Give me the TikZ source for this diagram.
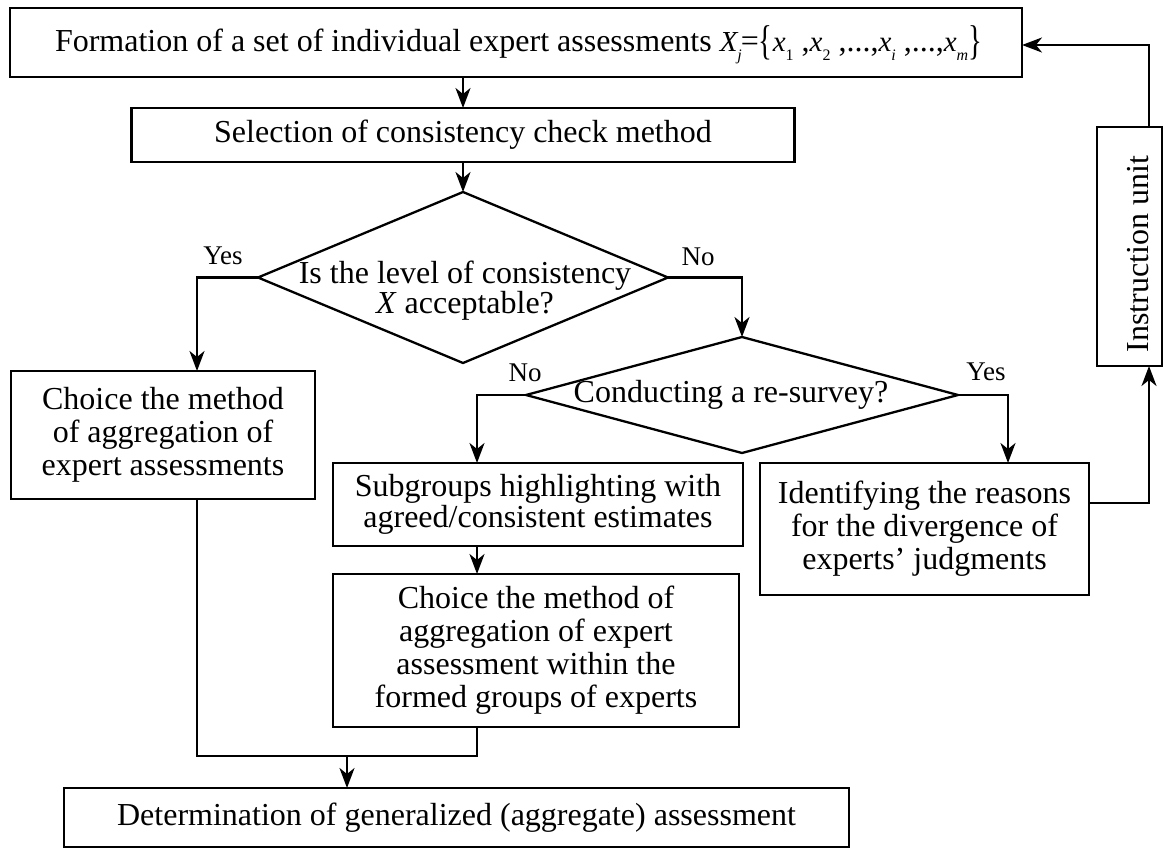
\documentclass[tikz,border=0pt]{standalone}
\usepackage{fontspec}
\setmainfont{Liberation Serif}
\usepackage{graphicx}
\usetikzlibrary{shapes.geometric,arrows.meta}

% lowered indices (italic and upright) and a stretched brace for the formula
\newcommand{\lowsub}[1]{\raisebox{-0.3em}{\fontsize{16}{16}\selectfont\itshape #1}}
\newcommand{\lowsubup}[1]{\raisebox{-0.3em}{\fontsize{16}{16}\selectfont #1}}
\newcommand{\tallbrace}[1]{\raisebox{-3.5pt}{\scalebox{0.9}[1.3]{#1}}}
\newcommand{\vx}{{\fontsize{29}{29}\selectfont\itshape x}}

\begin{document}
\begin{tikzpicture}[x=1pt,y=-1pt,
  every node/.style={inner sep=0pt, outer sep=0pt},
  txt/.style={font=\fontsize{32}{33}\selectfont, align=center},
  box/.style={txt, draw, line width=2.3pt, rectangle},
  decision/.style={draw, line width=2.3pt, shape=diamond},
  lbl/.style={font=\fontsize{27}{27}\selectfont},
  link/.style={line width=2.3pt},
  arr/.style={link, -{Stealth[length=20pt,width=15pt,inset=6pt]}},
]
\useasboundingbox[fill=white] (0,0) rectangle (1164,848);

% column and row helpers for the connectors
\coordinate (colYes) at (197,0);
\coordinate (colNo)  at (477,0);
\coordinate (colRe)  at (1008,0);
\coordinate (colDet) at (347,0);
\coordinate (colBack) at (1149,0);
\coordinate (rowJoin) at (0,756);
\coordinate (rowBack) at (0,503);
\coordinate (rowTop) at (0,45);

% blocks
\node[box, minimum width=1012pt, minimum height=69pt] (form) at (516,42.5) {};
\node[txt, anchor=west] (formtext) at (55,45)
  {Formation of a set of individual expert assessments\ {\fontsize{29}{29}\selectfont\itshape X}\lowsub{j}\kern-1pt={\tallbrace{\{}}\vx\lowsubup{1} ,\vx\lowsubup{2} ,...,\vx\lowsub{i} ,...,\vx\lowsub{m}{\tallbrace{\}}}};
\node[box, minimum width=663pt, minimum height=54pt] (sel) at (463,135)
  {Selection of consistency check method};

\node[decision, minimum width=410pt, minimum height=171pt] (q1) at (463,277.5) {};
\node[txt, font=\fontsize{32}{29}\selectfont] (q1text) at (465,291)
  {Is the level of consistency\\\textit{X} acceptable?};

\node[decision, minimum width=432pt, minimum height=116pt] (q2) at (742,395) {};
\node[txt] (q2text) at (731,395) {Conducting a re-survey?};

\node[box, minimum width=304pt, minimum height=128pt] (agg1) at (163,435)
  {Choice the method\\of aggregation of\\expert assessments};
\node[box, minimum width=410pt, minimum height=83pt, font=\fontsize{32}{31}\selectfont] (sub) at (538,504.5)
  {Subgroups highlighting with\\agreed/consistent estimates};
\node[box, minimum width=329pt, minimum height=132pt] (ident) at (924.5,529)
  {Identifying the reasons\\for the divergence of\\experts' judgments};
\node[box, minimum width=406pt, minimum height=153pt] (agg2) at (536,650.5)
  {Choice the method of\\aggregation of expert\\assessment within the\\formed groups of experts};
\node[box, minimum width=785pt, minimum height=59pt] (det) at (456.5,817.5)
  {Determination of generalized (aggregate) assessment};

\node[draw, line width=2.3pt, minimum width=65pt, minimum height=239pt] (instr) at (1129.5,246.5) {};
\node[txt, rotate=90] (instrtext) at (1138,254) {Instruction unit};

% branch labels
\node[lbl] (yesA) at (223,256) {Yes};
\node[lbl] (noA)  at (698,257) {No};
\node[lbl] (noB)  at (525,373) {No};
\node[lbl] (yesB) at (986,372) {Yes};

% connectors
\draw[arr] (sel.north |- form.south) -- (sel.north);
\draw[arr] (sel.south) -- (q1.north);
\draw[arr] (q1.west) -| (colYes |- agg1.north);
\draw[arr] (q1.east) -| (q2.north);
\draw[arr] (q2.west) -| (colNo |- sub.north);
\draw[arr] (q2.east) -| (colRe |- ident.north);
\draw[arr] (colNo |- sub.south) -- (colNo |- agg2.north);
\draw[link] (colYes |- agg1.south) -- (colYes |- rowJoin) -- (colNo |- rowJoin) -- (colNo |- agg2.south);
\draw[arr] (colDet |- rowJoin) -- (colDet |- det.north);
\draw[arr] (ident.east |- rowBack) -| (colBack |- instr.south);
\draw[arr] (colBack |- instr.north) |- (form.east |- rowTop);
\end{tikzpicture}
\end{document}
